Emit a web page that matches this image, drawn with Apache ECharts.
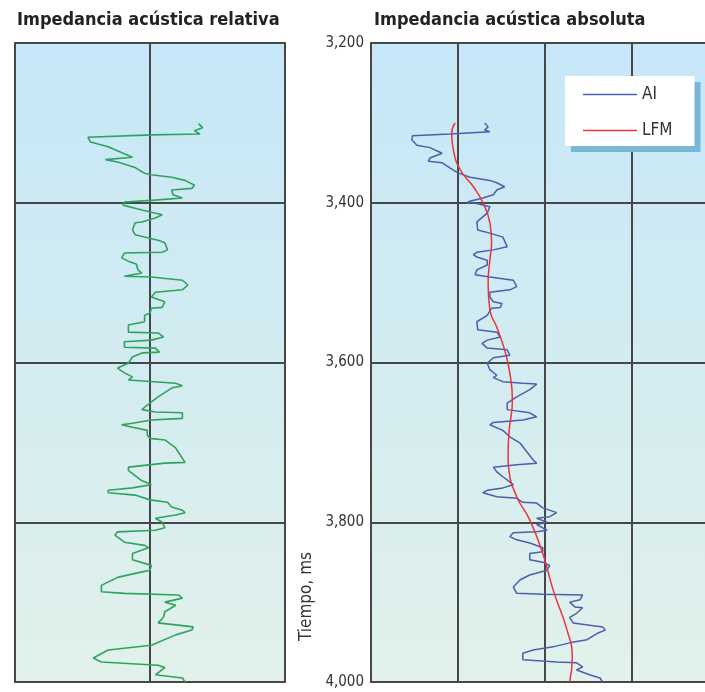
<!DOCTYPE html>
<html>
<head>
<meta charset="utf-8">
<script src="https://cdn.jsdelivr.net/npm/echarts@6/dist/echarts.min.js"></script>
<style>
html,body{margin:0;padding:0;background:#fff;}
#c{width:705px;height:692px;}
</style>
</head>
<body>
<div id="c"></div>
<script>
// ---- data: [value, time ms] ----
const timeTicks = [3200, 3400, 3600, 3800, 4000];
const titles = ['Impedancia acústica relativa', 'Impedancia acústica absoluta'];
const legendNames = ['AI', 'LFM'];

const relativeAI = [
[0.36,3301],[0.39,3306],[0.33,3310],[0.37,3314],[0.01,3315],[-0.46,3318],[-0.44,3324],[-0.31,3330],
[-0.13,3343],[-0.33,3346],[-0.24,3349],[-0.11,3356],[-0.04,3363],[0.01,3365],[0.16,3368],[0.26,3372],
[0.33,3378],[0.31,3382],[0.16,3384],[0.17,3390],[0.24,3394],[0.01,3397],[-0.19,3399],[-0.2,3403],
[-0.06,3409],[0.09,3415],[0.04,3419],[-0.06,3424],[-0.11,3425],[-0.13,3434],[-0.11,3440],[0.06,3447],
[0.11,3450],[0.13,3459],[0.09,3462],[-0.19,3463],[-0.21,3469],[-0.15,3474],[-0.10,3477],[-0.09,3484],
[-0.06,3488],[-0.19,3492],[0.01,3493],[0.24,3497],[0.28,3503],[0.24,3509],[0.04,3512],[0.01,3518],
[0.11,3524],[0.09,3531],[0.01,3532],[0,3538],[-0.04,3541],[-0.04,3549],[-0.16,3553],[-0.16,3562],
[0.06,3563],[0.10,3568],[0.01,3572],[-0.19,3574],[-0.19,3581],[0.04,3582],[0.07,3587],[-0.06,3588],
[-0.13,3593],[-0.16,3601],[-0.24,3607],[-0.19,3613],[-0.13,3618],[-0.16,3622],[0.19,3626],[0.24,3629],
[0.16,3632],[0.06,3643],[-0.04,3656],[-0.06,3659],[0.04,3662],[0.24,3663],[0.24,3670],[0.01,3672],
[-0.13,3676],[-0.21,3678],[-0.13,3681],[-0.02,3685],[-0.02,3691],[0,3695],[0.11,3697],[0.19,3707],
[0.24,3720],[0.26,3725],[0.11,3726],[-0.16,3731],[-0.16,3735],[-0.07,3747],[0.01,3753],[-0.13,3757],
[-0.31,3760],[-0.31,3763],[-0.11,3766],[0,3772],[0.13,3775],[0.16,3781],[0.24,3785],[0.26,3788],
[0.19,3791],[0.04,3795],[0.09,3800],[0.11,3807],[0.04,3810],[-0.24,3812],[-0.26,3816],[-0.19,3825],
[-0.04,3829],[-0.01,3832],[-0.13,3839],[-0.13,3847],[0.01,3854],[0,3860],[-0.11,3864],[-0.24,3869],
[-0.36,3879],[-0.36,3887],[-0.19,3889],[0.21,3891],[0.24,3895],[0.11,3900],[0.19,3904],[0.16,3907],
[0.11,3912],[0.10,3919],[0.06,3926],[0.32,3931],[0.31,3935],[0.19,3941],[0.01,3954],[-0.31,3960],
[-0.42,3970],[-0.36,3975],[0.06,3979],[0.11,3982],[0.04,3991],[0.24,3995],[0.26,4000]
];

const absoluteAI = [
[1.31,3300],[1.35,3305],[1.31,3309],[1.37,3311],[0.91,3314],[0.48,3316],[0.47,3321],[0.53,3328],
[0.68,3331],[0.82,3338],[0.68,3344],[0.66,3348],[0.82,3350],[0.99,3362],[1.14,3368],[1.37,3372],
[1.45,3375],[1.54,3380],[1.45,3384],[1.41,3390],[1.29,3394],[1.14,3398],[1.11,3400],[1.22,3401],
[1.37,3405],[1.34,3413],[1.22,3424],[1.23,3434],[1.37,3438],[1.52,3443],[1.57,3455],[1.41,3459],
[1.22,3462],[1.18,3465],[1.22,3468],[1.34,3472],[1.34,3478],[1.22,3484],[1.20,3490],[1.37,3493],
[1.64,3497],[1.68,3505],[1.60,3509],[1.37,3512],[1.37,3518],[1.41,3524],[1.51,3526],[1.49,3531],
[1.39,3532],[1.34,3541],[1.22,3549],[1.23,3559],[1.45,3562],[1.49,3568],[1.34,3572],[1.28,3576],
[1.34,3582],[1.57,3584],[1.60,3591],[1.41,3594],[1.34,3601],[1.37,3609],[1.45,3616],[1.41,3619],
[1.52,3624],[1.75,3626],[1.91,3627],[1.83,3634],[1.68,3643],[1.57,3651],[1.57,3659],[1.83,3663],
[1.91,3668],[1.75,3672],[1.41,3675],[1.37,3678],[1.52,3685],[1.60,3693],[1.72,3701],[1.87,3722],
[1.91,3726],[1.68,3728],[1.41,3731],[1.45,3737],[1.52,3743],[1.64,3753],[1.52,3757],[1.34,3760],
[1.29,3763],[1.45,3768],[1.68,3770],[1.75,3775],[1.91,3776],[1.98,3782],[2.14,3788],[2.06,3793],
[1.91,3795],[2.03,3800],[1.91,3803],[2.03,3810],[1.91,3812],[1.64,3813],[1.60,3818],[1.68,3822],
[1.83,3826],[1.98,3832],[1.98,3837],[1.83,3839],[1.83,3847],[1.98,3850],[2.06,3854],[2.03,3860],
[1.83,3866],[1.72,3872],[1.64,3881],[1.68,3889],[1.98,3890],[2.44,3891],[2.41,3897],[2.29,3900],
[2.35,3906],[2.44,3907],[2.37,3914],[2.29,3919],[2.33,3926],[2.67,3931],[2.70,3935],[2.61,3939],
[2.49,3947],[2.29,3951],[2.10,3956],[1.87,3960],[1.75,3964],[1.75,3972],[2.14,3975],[2.37,3976],
[2.44,3981],[2.37,3985],[2.52,3991],[2.64,3995],[2.67,4000]
];

const lowFreqModel = [
[0.97,3300],[0.93,3313],[0.95,3334],[1.03,3359],[1.18,3380],[1.29,3400],[1.37,3425],[1.39,3450],
[1.37,3472],[1.35,3500],[1.37,3534],[1.45,3556],[1.54,3584],[1.60,3613],[1.63,3647],[1.59,3688],
[1.58,3718],[1.59,3735],[1.68,3768],[1.83,3797],[1.98,3839],[2.10,3885],[2.26,3935],[2.32,3969],
[2.29,4000]
];

// ---- chart ----
const NARROW = "'Liberation Sans Narrow', 'Arial Narrow', 'DejaVu Sans Condensed', sans-serif";
const bg = {type:'linear', x:0, y:0, x2:0, y2:1, colorStops:[
  {offset:0, color:'#c6e7f8'}, {offset:0.5, color:'#d3ecf1'}, {offset:1, color:'#e2f1eb'}]};
const lineCol = '#474747';

const chart = echarts.init(document.getElementById('c'), null, {renderer:'canvas'});
const gridBase = {top:43, height:639, show:true, backgroundColor:bg, borderColor:'#5a5a5a', borderWidth:2,
  outerBoundsMode:'none', containLabel:false};
const yBase = {
  type:'value', inverse:true, min:timeTicks[0], max:timeTicks[timeTicks.length-1], interval:200,
  axisLine:{show:false}, axisTick:{show:false},
  splitLine:{show:true, lineStyle:{color:lineCol, width:2}}
};
const xBase = {
  type:'value', interval:1, axisLine:{show:false}, axisTick:{show:false}, axisLabel:{show:false},
  splitLine:{show:true, lineStyle:{color:lineCol, width:2}}
};

chart.setOption({
  animation:false,
  title:[
    {text:titles[0], left:12, top:6, textStyle:{fontFamily:NARROW, fontWeight:'bold', fontSize:18, color:'#222'}},
    {text:titles[1], left:369, top:6, textStyle:{fontFamily:NARROW, fontWeight:'bold', fontSize:18, color:'#222'}}
  ],
  legend:{
    data:legendNames, orient:'vertical', left:565, top:76, icon:'path://M0 0H54V1.6H0Z',
    padding:[10, 22, 7, 18], itemWidth:54, itemHeight:14, itemGap:19,
    backgroundColor:'#ffffff', shadowColor:'#7ab6d6', shadowBlur:0, shadowOffsetX:6, shadowOffsetY:6,
    textStyle:{fontFamily:NARROW, fontSize:17, color:'#333'}
  },
  grid:[
    Object.assign({left:15, width:270}, gridBase),
    Object.assign({left:371, width:347}, gridBase)
  ],
  xAxis:[
    Object.assign({gridIndex:0, min:-1, max:1}, xBase),
    Object.assign({gridIndex:1, min:0, max:4}, xBase)
  ],
  yAxis:[
    Object.assign({gridIndex:0, axisLabel:{show:false}}, yBase),
    Object.assign({gridIndex:1, axisLabel:{show:true, margin:7, fontFamily:NARROW, fontSize:15, color:'#333',
      formatter:v => String(v).replace(/\B(?=(\d{3})+(?!\d))/g, ',')}}, yBase)
  ],
  graphic:[{
    type:'text', left:298, top:552,
    rotation:Math.PI/2,
    style:{text:'Tiempo, ms', fontFamily:NARROW, fontSize:17, fill:'#333'}
  }],
  series:[
    {name:'Relativa', type:'line', xAxisIndex:0, yAxisIndex:0, data:relativeAI, symbol:'none',
      lineStyle:{color:'#2fa35c', width:1.6}, z:5},
    {name:'AI', type:'line', xAxisIndex:1, yAxisIndex:1, data:absoluteAI, symbol:'none',
      itemStyle:{color:'#4b5fae'}, lineStyle:{color:'#4b5fae', width:1.5}, z:5},
    {name:'LFM', type:'line', xAxisIndex:1, yAxisIndex:1, data:lowFreqModel, symbol:'none', smooth:true,
      itemStyle:{color:'#e8343c'}, lineStyle:{color:'#e8343c', width:1.5}, z:6}
  ]
});
</script>
</body>
</html>
